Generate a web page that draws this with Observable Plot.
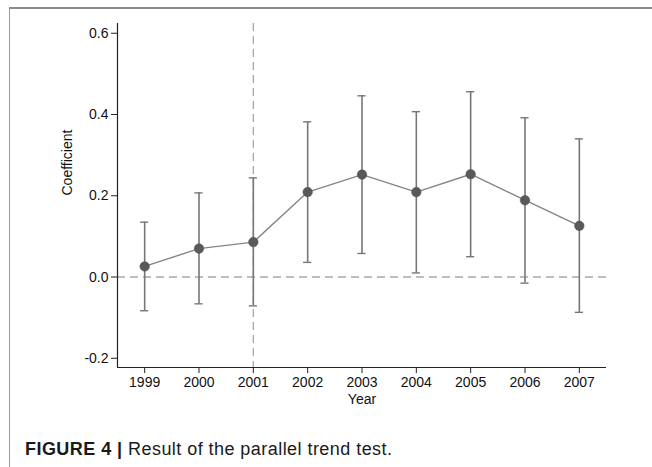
<!DOCTYPE html>
<html>
<head>
<meta charset="utf-8">
<script src="https://cdn.jsdelivr.net/npm/d3@7"></script>
<script src="https://cdn.jsdelivr.net/npm/@observablehq/plot@0.6"></script>
<style>
  html, body { margin: 0; padding: 0; background: #fff; }
  body { width: 652px; height: 467px; position: relative; overflow: hidden; font-family: "Liberation Sans", Arial, sans-serif; }
  #frame { position: absolute; left: 9px; top: 7px; width: 643px; height: 460px; border-top: 2px solid #8a8a8a; border-left: 1px solid #9a9a9a; }
  #chart { position: absolute; left: 0; top: 0; }
  #caption { position: absolute; left: 25px; top: 439px; font-size: 18px; letter-spacing: 0.45px; color: #1a1a1a; white-space: nowrap; }
  #caption b { font-weight: bold; }
</style>
</head>
<body>
<div id="frame"></div>
<div id="chart"></div>
<div id="caption"><b>FIGURE 4 | </b>Result of the parallel trend test.</div>
<script>
const years = [1999, 2000, 2001, 2002, 2003, 2004, 2005, 2006, 2007];
const coef  = [0.026, 0.070, 0.086, 0.209, 0.252, 0.209, 0.253, 0.189, 0.126];
const lower = [-0.083, -0.066, -0.071, 0.036, 0.058, 0.010, 0.050, -0.015, -0.087];
const upper = [0.135, 0.207, 0.244, 0.382, 0.446, 0.407, 0.456, 0.392, 0.340];
const yTicks = [-0.2, 0.0, 0.2, 0.4, 0.6];
const xDomain = [1998.5, 2007.5];
const yDomain = [-0.2227, 0.624];
const eventYear = 2001;
const capHalf = 0.075;

const data = years.map((year, i) => ({year, coef: coef[i], lower: lower[i], upper: upper[i]}));

const chart = Plot.plot({
  width: 652,
  height: 420,
  marginLeft: 117,
  marginRight: 46,
  marginTop: 23,
  marginBottom: 53,
  style: {fontFamily: "Liberation Sans, Arial, sans-serif", fontSize: "14px", color: "#111", background: "transparent"},
  x: {domain: xDomain},
  y: {domain: yDomain},
  marks: [
    Plot.ruleY([0], {stroke: "#a8a8a8", strokeWidth: 1.3, strokeDasharray: "8,5"}),
    Plot.ruleX([eventYear], {stroke: "#a8a8a8", strokeWidth: 1.3, strokeDasharray: "8,5"}),
    Plot.ruleX(data, {x: "year", y1: "lower", y2: "upper", stroke: "#767676", strokeWidth: 1.6}),
    Plot.ruleY(data, {y: "upper", x1: d => d.year - capHalf, x2: d => d.year + capHalf, stroke: "#767676", strokeWidth: 1.4}),
    Plot.ruleY(data, {y: "lower", x1: d => d.year - capHalf, x2: d => d.year + capHalf, stroke: "#767676", strokeWidth: 1.4}),
    Plot.line(data, {x: "year", y: "coef", stroke: "#858585", strokeWidth: 1.4}),
    Plot.dot(data, {x: "year", y: "coef", r: 4.8, fill: "#595959", stroke: "#595959", strokeWidth: 0.5}),
    Plot.ruleX([xDomain[0]], {stroke: "#222", strokeWidth: 1.2}),
    Plot.ruleY([yDomain[0]], {stroke: "#222", strokeWidth: 1.2}),
    Plot.axisY({ticks: yTicks, tickFormat: d => d.toFixed(1), tickSize: 6, tickPadding: 3, label: null, stroke: "#222", fontSize: 14}),
    Plot.axisX({ticks: years, tickFormat: d => String(d), tickSize: 6, tickPadding: 4, label: null, stroke: "#222", fontSize: 14}),
    Plot.text(["Coefficient"], {frameAnchor: "left", dx: -50, rotate: -90, fontSize: 14, fill: "#111"}),
    Plot.text(["Year"], {frameAnchor: "bottom", dy: 36, fontSize: 14, fill: "#111"})
  ]
});
document.getElementById("chart").appendChild(chart);
</script>
</body>
</html>
